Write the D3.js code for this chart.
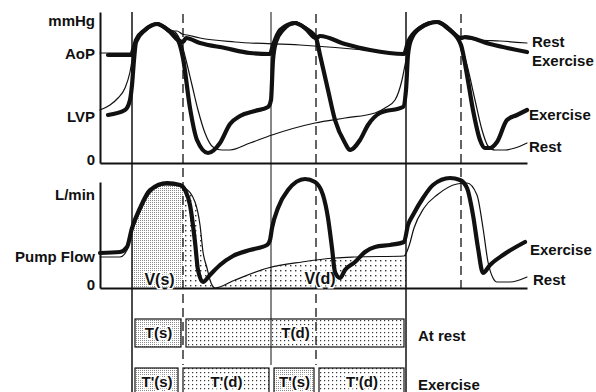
<!DOCTYPE html>
<html>
<head>
<meta charset="utf-8">
<script src="https://cdn.jsdelivr.net/npm/d3@7"></script>
<style>
  body { margin: 0; background: #fff; }
  svg { display: block; }
  text { font-family: "Liberation Sans", Arial, sans-serif; font-weight: bold; fill: #111; }
</style>
</head>
<body>
<svg width="596" height="392"></svg>
<script>
"use strict";

// time in ms, pressure in mmHg, flow in L/min
const exerciseAoP = [
  [32, 108], [128, 108], [144, 123], [180, 133], [228, 139], [272, 133], [312, 123],
  [332, 121], [344, 125], [400, 120], [500, 115], [600, 110], [680, 109], [692, 118],
  [720, 133], [780, 140], [820, 135], [864, 125], [880, 127], [980, 119], [1080, 113],
  [1216, 109], [1232, 121], [1280, 135], [1348, 141], [1400, 133], [1444, 125],
  [1460, 126], [1560, 119], [1708, 111]
];
const exerciseLVP = [
  [32, 48], [100, 53], [120, 63], [128, 78], [136, 103], [144, 121], [180, 133],
  [228, 139], [272, 133], [312, 123], [332, 105], [360, 55], [388, 23], [432, 10],
  [480, 20], [520, 39], [560, 47], [620, 52], [672, 56], [684, 63], [692, 103],
  [704, 121], [732, 133], [780, 140], [820, 135], [864, 125], [880, 108], [912, 73],
  [940, 43], [980, 20], [1000, 13], [1040, 23], [1072, 38], [1120, 50], [1212, 56],
  [1224, 73], [1232, 108], [1244, 123], [1280, 135], [1348, 141], [1400, 133],
  [1444, 118], [1468, 88], [1492, 53], [1520, 23], [1540, 15], [1560, 15], [1588, 21],
  [1628, 43], [1668, 48], [1708, 53]
];
const restAoP = [
  [0, 110], [120, 110], [132, 118], [152, 128], [192, 135], [228, 138], [260, 135],
  [288, 132], [308, 132], [328, 129], [348, 128], [400, 125], [540, 121], [800, 118],
  [1100, 112], [1216, 109], [1232, 121], [1256, 131], [1288, 137], [1348, 140],
  [1400, 133], [1444, 125], [1520, 123], [1600, 122], [1708, 120]
];
const restLVP = [
  [0, 53], [40, 58], [72, 65], [100, 75], [120, 91], [132, 108], [152, 125], [192, 135],
  [228, 138], [260, 135], [300, 131], [328, 118], [344, 103], [368, 78], [392, 53],
  [420, 30], [452, 16], [488, 13], [520, 13], [600, 20], [688, 28], [860, 40], [980, 45],
  [1100, 50], [1140, 55], [1180, 63], [1208, 83], [1224, 103], [1240, 121], [1256, 131],
  [1288, 137], [1348, 140], [1400, 133], [1444, 118], [1468, 98], [1500, 63], [1528, 33],
  [1552, 17], [1580, 13], [1620, 13], [1660, 15], [1708, 20]
];
const exerciseFlow = [
  [0, 3.5], [80, 3.6], [108, 4.1], [128, 6.0], [160, 8.0], [200, 9.8], [268, 10.5],
  [320, 10.3], [340, 9.8], [360, 8.3], [380, 4.6], [392, 1.8], [412, 0.6], [440, 1.3],
  [480, 2.3], [532, 3.2], [600, 3.8], [668, 4.3], [680, 4.8], [688, 6.0], [712, 8.0],
  [752, 9.8], [820, 10.9], [860, 10.6], [892, 9.3], [912, 7.0], [928, 4.0], [940, 1.6],
  [960, 1.0], [980, 1.8], [1020, 2.6], [1060, 3.6], [1100, 4.1], [1160, 4.3], [1216, 4.6],
  [1232, 6.3], [1252, 7.3], [1292, 9.0], [1332, 10.3], [1400, 11.0], [1440, 10.8],
  [1468, 10.0], [1492, 7.3], [1512, 4.0], [1532, 1.5], [1560, 2.3], [1612, 3.3], [1700, 4.6]
];
const restFlow = [
  [0, 3.1], [80, 3.1], [108, 3.8], [128, 5.6], [160, 7.6], [200, 9.5], [260, 10.3],
  [320, 10.2], [340, 10.0], [380, 8.6], [400, 6.3], [412, 3.6], [428, 2.0], [440, 0.8],
  [460, 0], [540, 0.8], [672, 2.0], [808, 2.6], [940, 3.0], [1020, 3.1], [1216, 3.2],
  [1236, 4.2], [1256, 6.0], [1296, 8.0], [1348, 9.3], [1428, 10.4], [1468, 10.5],
  [1508, 9.3], [1532, 6.0], [1552, 2.6], [1572, 1.0], [1588, 0.6], [1640, 0.6], [1708, 1.1]
];

const beatStarts = [128, 684, 1224];
const endSystole = [332, 864, 1444];
const restPhases = [128, 332, 1224];
const restPhaseLabels = ["T(s)", "T(d)"];
const exercisePhases = [128, 320, 684, 864, 1224];
const exercisePhaseLabels = ["T'(s)", "T'(d)", "T'(s)", "T'(d)"];

const pressureTicks = [0, 46, 109, 142];
const pressureTickLabels = ["0", "LVP", "AoP", "mmHg"];
const flowTicks = [0, 3.1, 9.3];
const flowTickLabels = ["0", "Pump Flow", "L/min"];

window.addEventListener("load", drawChart);

function drawChart() {
  const svg = d3.select("svg");

  const x = d3.scaleLinear().domain([0, 1708]).range([100, 527]);
  const yP = d3.scaleLinear().domain([0, 151]).range([163, 12]);
  const yF = d3.scaleLinear().domain([0, 10.6]).range([288, 182]);

  // dot patterns
  const defs = svg.append("defs");
  function dots(id, step, size, color) {
    const p = defs.append("pattern").attr("id", id)
      .attr("patternUnits", "userSpaceOnUse").attr("width", step).attr("height", step);
    p.append("rect").attr("width", size).attr("height", size).attr("fill", color);
  }
  dots("dense", 2, 1, "#8a8a8a");
  dots("boxdots", 4, 1.2, "#333");
  dots("sparse", 5, 1.4, "#333");

  defs.append("clipPath").attr("id", "clipS").append("rect")
    .attr("x", x(restPhases[0])).attr("y", 0)
    .attr("width", x(restPhases[1]) - x(restPhases[0])).attr("height", 392);
  defs.append("clipPath").attr("id", "clipD").append("rect")
    .attr("x", x(restPhases[1])).attr("y", 0)
    .attr("width", x(restPhases[2]) - x(restPhases[1])).attr("height", 392);

  const flowArea = d3.area().curve(d3.curveMonotoneX)
    .x((d) => x(d[0])).y0(yF(0)).y1((d) => yF(d[1]));

  svg.append("path").datum(restFlow).attr("d", flowArea)
    .attr("fill", "url(#dense)").attr("clip-path", "url(#clipS)");
  svg.append("path").datum(restFlow).attr("d", flowArea)
    .attr("fill", "url(#sparse)").attr("clip-path", "url(#clipD)");

  // event markers
  const solidBottoms = [392, 365, 392];
  const solidWidths = [1.5, 1, 1.5];
  svg.selectAll(".beat").data(beatStarts).enter().append("line")
    .attr("x1", (d) => x(d)).attr("x2", (d) => x(d))
    .attr("y1", 12).attr("y2", (d, i) => solidBottoms[i])
    .attr("stroke", "#111").attr("stroke-width", (d, i) => solidWidths[i]);

  const dashBottoms = [365, 365, 290];
  svg.selectAll(".es").data(endSystole).enter().append("line")
    .attr("x1", (d) => x(d)).attr("x2", (d) => x(d))
    .attr("y1", 14).attr("y2", (d, i) => dashBottoms[i])
    .attr("stroke", "#111").attr("stroke-width", 1.3)
    .attr("stroke-dasharray", "9,5");

  // axes
  function styleAxis(g) {
    g.select(".domain").attr("stroke", "#111").attr("stroke-width", 2);
    g.selectAll("text").attr("font-size", 15).attr("fill", "#111")
      .attr("font-family", '"Liberation Sans", Arial, sans-serif');
    g.selectAll("text").filter((d) => d === 0).attr("dy", "0.1em");
  }
  svg.append("g").attr("transform", `translate(${x(0)},0)`)
    .call(d3.axisLeft(yP).tickValues(pressureTicks).tickSize(0).tickPadding(5)
      .tickFormat((d, i) => pressureTickLabels[i]))
    .call(styleAxis);
  svg.append("g").attr("transform", `translate(0,${yP(0)})`)
    .call(d3.axisBottom(x).tickValues([]).tickSizeOuter(0))
    .call(styleAxis);
  svg.append("g").attr("transform", `translate(${x(0)},0)`)
    .call(d3.axisLeft(yF).tickValues(flowTicks).tickSize(0).tickPadding(5)
      .tickFormat((d, i) => flowTickLabels[i]))
    .call(styleAxis);
  svg.append("g").attr("transform", `translate(0,${yF(0)})`)
    .call(d3.axisBottom(x).tickValues([]).tickSizeOuter(0))
    .call(styleAxis);

  // V labels
  const vLabels = svg.append("g").attr("font-size", 16).attr("text-anchor", "middle")
    .attr("stroke", "#fff").attr("stroke-width", 3).attr("paint-order", "stroke");
  vLabels.append("text").attr("x", (x(restPhases[0]) + x(restPhases[1])) / 2 + 2)
    .attr("y", yF(0) - 3).text("V(s)");
  vLabels.append("text").attr("x", x(880)).attr("y", yF(0) - 4).text("V(d)");

  // traces
  const lineP = d3.line().curve(d3.curveMonotoneX).x((d) => x(d[0])).y((d) => yP(d[1]));
  const lineF = d3.line().curve(d3.curveMonotoneX).x((d) => x(d[0])).y((d) => yF(d[1]));

  const traces = [
    { data: restAoP, gen: lineP, w: 1.2 },
    { data: restLVP, gen: lineP, w: 1.2 },
    { data: restFlow, gen: lineF, w: 1.2 },
    { data: exerciseAoP, gen: lineP, w: 4.2 },
    { data: exerciseLVP, gen: lineP, w: 4.2 },
    { data: exerciseFlow, gen: lineF, w: 4.2 },
  ];
  traces.forEach((t) => {
    svg.append("path").datum(t.data).attr("d", t.gen)
      .attr("fill", "none").attr("stroke", "#111")
      .attr("stroke-width", t.w)
      .attr("stroke-linejoin", "round").attr("stroke-linecap", "round");
  });

  // series labels on the right
  const right = svg.append("g").attr("font-size", 15);
  right.append("text").attr("x", 532).attr("y", 47).text("Rest");
  right.append("text").attr("x", 532).attr("y", 66).text("Exercise");
  right.append("text").attr("x", 529).attr("y", 120).text("Exercise");
  right.append("text").attr("x", 529).attr("y", 152).text("Rest");
  right.append("text").attr("x", 530).attr("y", 255).text("Exercise");
  right.append("text").attr("x", 533).attr("y", 285).text("Rest");

  // phase duration bars
  function phaseRow(phases, labels, top, name) {
    const segs = labels.map((l, i) => ({ label: l, t0: phases[i], t1: phases[i + 1], sys: i % 2 === 0 }));
    const g = svg.append("g");
    const h = 28;
    g.selectAll("rect").data(segs).enter().append("rect")
      .attr("x", (d) => x(d.t0) + 3).attr("y", top)
      .attr("width", (d) => x(d.t1) - x(d.t0) - 5).attr("height", h)
      .attr("fill", (d) => (d.sys ? "url(#dense)" : "url(#boxdots)"))
      .attr("stroke", "#111").attr("stroke-width", 1.2);
    g.selectAll("text").data(segs).enter().append("text")
      .attr("x", (d) => (x(d.t0) + x(d.t1)) / 2 + 1)
      .attr("y", top + 19).attr("text-anchor", "middle").attr("font-size", 15)
      .attr("stroke", "#fff").attr("stroke-width", 3).attr("paint-order", "stroke")
      .text((d) => d.label);
    svg.append("text").attr("x", 418).attr("y", top + 22).attr("font-size", 15).text(name);
  }
  phaseRow(restPhases, restPhaseLabels, 319, "At rest");
  phaseRow(exercisePhases, exercisePhaseLabels, 368, "Exercise");
}
</script>
</body>
</html>
